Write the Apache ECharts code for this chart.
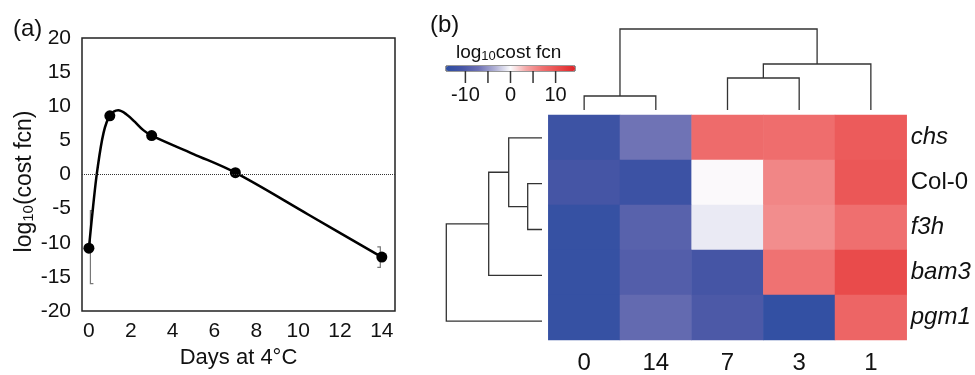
<!DOCTYPE html>
<html>
<head>
<meta charset="utf-8">
<script src="https://cdn.jsdelivr.net/npm/echarts@6/dist/echarts.min.js"></script>
<style>
  html, body { margin: 0; padding: 0; background: #fff; }
  #chart { width: 975px; height: 375px; }
</style>
</head>
<body>
<div id="chart"></div>
<script>
// (a) Col-0 cost function over days at 4°C
const dayPts = [0, 1, 3, 7, 14];
const col0Cost = [-10.8, 8.6, 5.7, 0.26, -12.1];
// fitted curve
const curveX = [0, 0.2, 0.4, 0.7, 1, 1.4, 1.8, 2.2, 2.6, 3, 5, 7, 10.5, 14];
const curveY = [-10.8, -4.7, 0.6, 6.1, 8.6, 9.4, 8.8, 7.7, 6.5, 5.7, 3.0, 0.26, -5.9, -12.1];
const errDays = [0, 14];
const errLow = [-16.0, -13.6];
const errHigh = [-5.3, -10.6];
const xTicks = [0, 2, 4, 6, 8, 10, 12, 14];

// (b) heatmap, columns in dendrogram order
const hmCols = ['0', '14', '7', '3', '1'];
const hmRows = ['chs', 'Col-0', 'f3h', 'bam3', 'pgm1'];
const chs = [-12.0, -7.0, 7.6, 7.4, 9.2];
const col0 = [-10.8, -12.1, 0.1, 5.7, 9.6];
const f3h = [-13.0, -9.0, -0.8, 5.2, 7.2];
const bam3 = [-13.0, -9.5, -10.8, 7.0, 10.8];
const pgm1 = [-13.0, -8.0, -10.2, -13.5, 8.2];
const cbRange = [-14.3, 14.3];
const cbTicks = [-10, -5, 0, 5, 10];
const cbLabels = [-10, 0, 10];
const cbColors = ['#2d4ea2', '#4655a5', '#6c70b4', '#aeaed4', '#fbfbfd',
                  '#f4a6a6', '#ef7070', '#e94c4c', '#df2429'];

// dendrograms: [pos1, height1, pos2, height2, mergeHeight]
const colLinks = [
  [0.5, 0, 1.5, 0, 14],
  [2.5, 0, 3.5, 0, 32],
  [3.0, 32, 4.5, 0, 46],
  [1.0, 14, 3.75, 46, 81]
];
const rowLinks = [
  [1.5, 0, 2.5, 0, 14.3],
  [0.5, 0, 2.0, 14.3, 33.3],
  [1.25, 33.3, 3.5, 0, 53.3],
  [2.375, 53.3, 4.5, 0, 95.7]
];

const font = 'Liberation Sans, Arial, sans-serif';
const hmData = [];
[chs, col0, f3h, bam3, pgm1].forEach((row, r) => {
  row.forEach((v, c) => hmData.push([c, r, v]));
});

function dendro(swap) {
  return function (params, api) {
    const p1 = api.value(0), h1 = api.value(1), p2 = api.value(2), h2 = api.value(3), h = api.value(4);
    const pt = (p, hh) => api.coord(swap ? [hh, p] : [p, hh]);
    return {
      type: 'polyline',
      shape: { points: [pt(p1, h1), pt(p1, h), pt(p2, h), pt(p2, h2)] },
      style: { stroke: '#333', lineWidth: 1.3, fill: null }
    };
  };
}

const subRich = {
  n: { fontSize: 23, fontFamily: font, color: '#111' },
  s: { fontSize: 15, fontFamily: font, color: '#111', padding: [10, 0, 0, 0] }
};

const chart = echarts.init(document.getElementById('chart'));
chart.setOption({
  animation: false,
  title: [
    { text: '(a)', left: 8, top: 12, textStyle: { fontSize: 24, fontWeight: 'normal', fontFamily: font, color: '#111' } },
    { text: '(b)', left: 425, top: 8, textStyle: { fontSize: 24, fontWeight: 'normal', fontFamily: font, color: '#111' } },
    {
      text: '{n|log}{s|10}{n|cost fcn}', left: 451, top: 37,
      textStyle: {
        fontWeight: 'normal',
        rich: {
          n: { fontSize: 19, fontWeight: 'normal', fontFamily: font, color: '#111' },
          s: { fontSize: 13, fontWeight: 'normal', fontFamily: font, color: '#111', padding: [8, 0, 0, 0] }
        }
      }
    }
  ],
  grid: [
    { left: 82, top: 38, width: 313, height: 273, show: true, borderColor: '#222', borderWidth: 1.5 },
    { left: 548.3, top: 115, width: 358.4, height: 229 },
    // colour bar tick axis, the bar sits in the top 5px
    { left: 446, top: 66, width: 129, height: 17 },
    { left: 548.3, top: 29.3, width: 358.4, height: 80.7 },
    { left: 446.3, top: 115, width: 95.7, height: 229 },
    // colour bar outline
    { left: 446, top: 66, width: 129, height: 5, show: true, borderColor: '#333', borderWidth: 1 }
  ],
  xAxis: [
    {
      gridIndex: 0, type: 'value', min: -0.33, max: 14.63,
      name: 'Days at 4°C', nameLocation: 'middle', nameGap: 24,
      nameTextStyle: { fontSize: 22, fontFamily: font, color: '#111' },
      axisLine: { show: false }, axisTick: { show: false }, splitLine: { show: false },
      axisLabel: { customValues: xTicks, fontSize: 21, fontFamily: font, color: '#111', margin: 10 }
    },
    {
      gridIndex: 1, type: 'category', data: hmCols,
      axisLine: { show: false }, axisTick: { show: false },
      axisLabel: { fontSize: 24, fontFamily: font, color: '#111', margin: 11 }
    },
    {
      gridIndex: 2, type: 'value', min: cbRange[0], max: cbRange[1],
      axisLine: { show: false, onZero: false }, splitLine: { show: false },
      axisTick: { show: false },
      axisLabel: {
        customValues: cbLabels, fontSize: 20, fontFamily: font, color: '#111', margin: 2,
        showMinLabel: true, showMaxLabel: true, hideOverlap: false
      }
    },
    { gridIndex: 3, type: 'value', min: 0, max: 5, show: false },
    { gridIndex: 4, type: 'value', min: 0, max: 95.7, inverse: true, show: false },
    { gridIndex: 5, type: 'value', min: cbRange[0], max: cbRange[1], show: false }
  ],
  yAxis: [
    {
      gridIndex: 0, type: 'value', min: -20, max: 20, interval: 5,
      name: '{n|log}{s|10}{n|(cost fcn)}', nameLocation: 'middle', nameGap: 44, nameRotate: 90,
      nameTextStyle: { fontSize: 23, fontFamily: font, color: '#111', rich: subRich, padding: [0, 14, 0, 0] },
      axisLine: { show: false }, axisTick: { show: false }, splitLine: { show: false },
      axisLabel: { fontSize: 21, fontFamily: font, color: '#111', margin: 11 }
    },
    {
      gridIndex: 1, type: 'category', data: hmRows, inverse: true, position: 'right',
      axisLine: { show: false }, axisTick: { show: false },
      axisLabel: {
        margin: 4,
        formatter: v => v === 'Col-0' ? '{n|' + v + '}' : '{i|' + v + '}',
        rich: {
          n: { fontSize: 24, fontFamily: font, color: '#111' },
          i: { fontSize: 24, fontFamily: font, color: '#111', fontStyle: 'italic' }
        }
      }
    },
    { gridIndex: 2, type: 'value', min: 0, max: 17, inverse: true, show: false },
    { gridIndex: 3, type: 'value', min: 0, max: 80.7, show: false },
    { gridIndex: 4, type: 'value', min: 0, max: 5, inverse: true, show: false },
    { gridIndex: 5, type: 'value', min: 0, max: 1, show: false }
  ],
  visualMap: {
    type: 'continuous', min: cbRange[0], max: cbRange[1], seriesIndex: 3,
    orient: 'horizontal', left: 446, top: 66, itemWidth: 5, itemHeight: 129,
    calculable: false, text: null, padding: 0,
    inRange: { color: cbColors }
  },
  series: [
    {
      type: 'line', xAxisIndex: 0, yAxisIndex: 0,
      data: curveX.map((x, i) => [x, curveY[i]]),
      smooth: 0.35, showSymbol: false,
      lineStyle: { color: '#000', width: 2.5 },
      markLine: {
        silent: true, symbol: 'none', label: { show: false },
        lineStyle: { color: '#333', type: 'dotted', width: 1 },
        data: [{ yAxis: 0 }]
      },
      z: 3
    },
    {
      type: 'scatter', xAxisIndex: 0, yAxisIndex: 0,
      data: dayPts.map((d, i) => [d, col0Cost[i]]),
      symbolSize: 11, itemStyle: { color: '#000', opacity: 1 }, z: 4
    },
    {
      type: 'custom', xAxisIndex: 0, yAxisIndex: 0,
      data: errDays.map((d, i) => [d, errLow[i], errHigh[i]]),
      renderItem: (params, api) => {
        const lo = api.coord([api.value(0), api.value(1)]);
        const hi = api.coord([api.value(0), api.value(2)]);
        const dir = api.value(0) === 0 ? 1 : -1;
        const x = lo[0] + dir * 1.5;
        return {
          type: 'polyline',
          shape: { points: [[x + dir * 3, hi[1]], [x, hi[1]], [x, lo[1]], [x + dir * 3, lo[1]]] },
          style: { stroke: '#777', lineWidth: 1.2, fill: null }
        };
      },
      z: 2
    },
    {
      type: 'heatmap', xAxisIndex: 1, yAxisIndex: 1, data: hmData,
      itemStyle: { borderWidth: 0 }, emphasis: { disabled: true }
    },
    {
      type: 'custom', xAxisIndex: 3, yAxisIndex: 3, data: colLinks,
      renderItem: dendro(false)
    },
    {
      type: 'custom', xAxisIndex: 4, yAxisIndex: 4, data: rowLinks,
      renderItem: dendro(true)
    },
    {
      // colour bar tick marks: from the bar's lower edge (5) to the axis (17)
      type: 'custom', xAxisIndex: 2, yAxisIndex: 2,
      data: cbTicks.map(v => [v, 5, 17, 0, 0]),
      renderItem: (params, api) => {
        const a = api.coord([api.value(0), api.value(1)]);
        const b = api.coord([api.value(0), api.value(2)]);
        return {
          type: 'polyline',
          shape: { points: [a, b] },
          style: { stroke: '#333', lineWidth: 1.5, fill: null }
        };
      },
      z: 10
    }
  ]
});
</script>
</body>
</html>
